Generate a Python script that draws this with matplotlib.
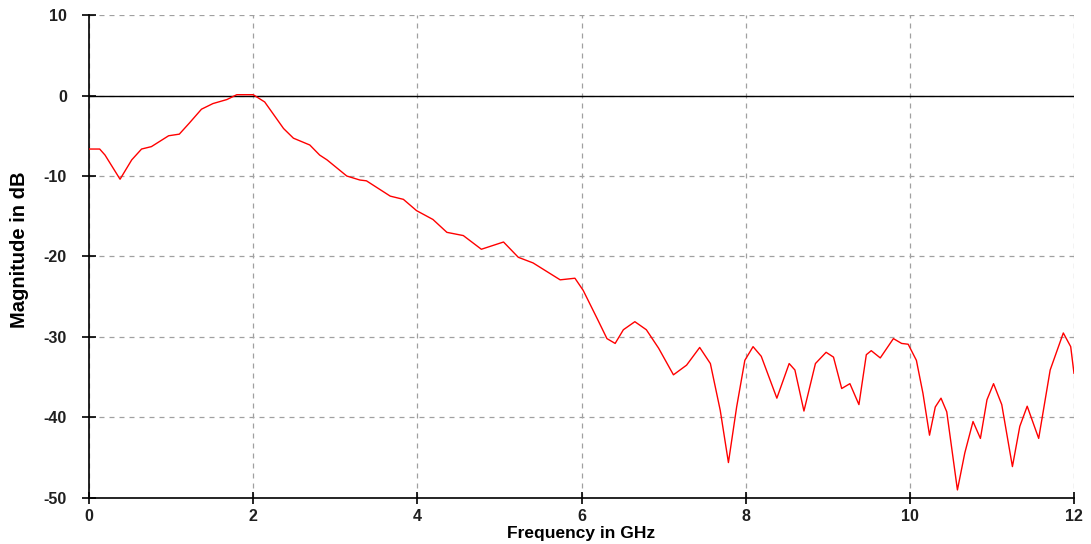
import matplotlib.pyplot as plt

freq = [0.0, 0.13, 0.195, 0.378, 0.52, 0.64, 0.76, 0.97, 1.10, 1.22, 1.37, 1.51, 1.68, 1.80,
        2.0, 2.14, 2.37, 2.49, 2.69, 2.81, 2.90, 3.14, 3.30, 3.38, 3.67, 3.83, 3.99, 4.19,
        4.36, 4.56, 4.78, 5.05, 5.23, 5.41, 5.74, 5.92, 6.02, 6.20, 6.31, 6.41, 6.51, 6.65,
        6.79, 6.94, 7.12, 7.28, 7.44, 7.57, 7.69, 7.79, 7.89, 7.99, 8.09, 8.19, 8.38, 8.53,
        8.60, 8.71, 8.85, 8.98, 9.07, 9.17, 9.27, 9.38, 9.47, 9.53, 9.64, 9.80, 9.90, 9.98,
        10.08, 10.16, 10.24, 10.31, 10.38, 10.45, 10.58, 10.67, 10.77, 10.86, 10.94, 11.02,
        11.12, 11.25, 11.34, 11.43, 11.57, 11.71, 11.87, 11.96, 12.0]
mag_db = [-6.65, -6.65, -7.4, -10.4, -8.0, -6.65, -6.35, -5.0, -4.8, -3.45, -1.7, -1.0, -0.5, 0.1,
          0.1, -0.8, -4.1, -5.3, -6.15, -7.4, -8.0, -10.0, -10.5, -10.6, -12.5, -12.9, -14.3, -15.4,
          -17.0, -17.4, -19.1, -18.2, -20.1, -20.8, -22.9, -22.7, -24.2, -27.9, -30.2, -30.8, -29.1, -28.1,
          -29.1, -31.4, -34.7, -33.5, -31.3, -33.3, -39.1, -45.6, -38.7, -32.9, -31.2, -32.4, -37.6, -33.3,
          -34.1, -39.2, -33.3, -31.9, -32.5, -36.4, -35.8, -38.4, -32.2, -31.7, -32.6, -30.2, -30.8, -30.9,
          -32.9, -37.0, -42.2, -38.7, -37.6, -39.3, -49.0, -44.4, -40.5, -42.6, -37.8, -35.8,
          -38.4, -46.1, -41.1, -38.6, -42.6, -34.1, -29.5, -31.2, -34.5]

plt.rcParams['font.family'] = ['Liberation Sans', 'DejaVu Sans']
plt.rcParams['axes.unicode_minus'] = False

fig = plt.figure(figsize=(10.91, 5.44), dpi=100)
ax = fig.add_axes([0.0816, 0.0846, 0.9028, 0.8878])

ax.plot(freq, mag_db, color='red', linewidth=1.0, zorder=3)
ax.axhline(0, color='black', linewidth=1.0, zorder=2)

ax.set_xlim(0, 12)
ax.set_ylim(-50, 10)
ax.set_xticks(range(0, 13, 2))
ax.set_yticks(range(-50, 11, 10))
ax.grid(True, color='#a0a0a0', linestyle=(0, (4, 4)), linewidth=0.9)

for s in ['top', 'right']:
    ax.spines[s].set_visible(False)
for s in ['left', 'bottom']:
    ax.spines[s].set_linewidth(1.2)

ax.tick_params(axis='y', direction='inout', length=10, width=1.2, labelsize=11.5, pad=11)
ax.tick_params(axis='x', direction='inout', length=8, width=1.2, labelsize=11.5, pad=4)
for lab in ax.get_xticklabels() + ax.get_yticklabels():
    lab.set_fontweight('bold')
    lab.set_color('#202020')

ax.set_xlabel('Frequency in GHz', fontsize=12.5, fontweight='bold', va='center')
ax.set_ylabel('Magnitude in dB', fontsize=14.5, fontweight='bold', va='center')
ax.xaxis.set_label_coords(0.5, -0.0745)
ax.yaxis.set_label_coords(-0.071, 0.515)

fig.savefig('out.png', dpi=100)
